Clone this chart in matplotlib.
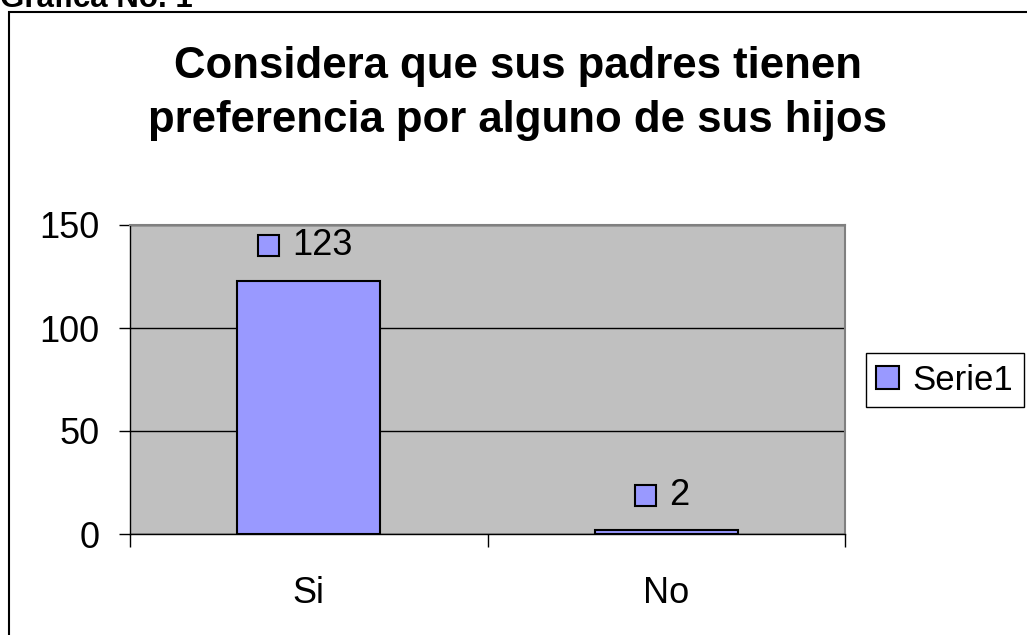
import matplotlib
matplotlib.use('Agg')
import matplotlib.pyplot as plt
from matplotlib.patches import Rectangle, Patch
from matplotlib.offsetbox import AnnotationBbox, DrawingArea, TextArea, HPacker

plt.rcParams['font.family'] = ['Liberation Sans', 'DejaVu Sans']

# datos
categorias = ['Si', 'No']
valores = [123, 2]
serie = 'Serie1'
titulo = ['Considera que sus padres tienen', 'preferencia por alguno de sus hijos']
encabezado = 'Grafica No. 1'
yticks = [0, 50, 100, 150]

W, H = 1027, 635
fig = plt.figure(figsize=(W / 100, H / 100), dpi=100)


def fx(px):
    return px / W


def fy(py):
    return 1 - py / H


# marco exterior (cortado a la derecha y abajo)
fig.add_artist(Rectangle((fx(9), -0.1), 2, fy(12) + 0.1, transform=fig.transFigure,
                         fill=False, ec='black', lw=1.5))
fig.text(fx(0), fy(7), encabezado, fontsize=22.5, fontweight='bold', ha='left', va='baseline')

# titulo
fig.text(fx(518), fy(78), titulo[0], fontsize=31.5, fontweight='bold', ha='center', va='baseline')
fig.text(fx(518), fy(132), titulo[1], fontsize=31.5, fontweight='bold', ha='center', va='baseline')

ax = fig.add_axes([fx(130), fy(534), (845 - 130) / W, (534 - 225) / H])
ax.set_facecolor('#c0c0c0')
x = list(range(len(categorias)))
ax.bar(x, valores, width=0.4, color='#9999ff', edgecolor='black', linewidth=1.5, zorder=3)
ax.set_xlim(-0.5, len(categorias) - 0.5)
ax.set_ylim(0, 150)
ax.set_yticks(yticks)
ax.tick_params(axis='y', direction='out', length=8, width=1, pad=14, labelsize=26)

# ticks en los limites de categoria, etiquetas en el centro
ax.set_xticks([i - 0.5 for i in range(len(categorias) + 1)])
ax.set_xticklabels([])
ax.set_xticks(x, minor=True)
ax.set_xticklabels(categorias, minor=True)
ax.tick_params(axis='x', which='major', direction='out', length=9, width=1)
ax.tick_params(axis='x', which='minor', length=0, pad=30, labelsize=26)

ax.grid(axis='y', color='black', lw=1)
ax.set_axisbelow(True)
for s in ['top', 'right']:
    ax.spines[s].set_color('#808080')
    ax.spines[s].set_linewidth(1.5)
for s in ['left', 'bottom']:
    ax.spines[s].set_color('black')
    ax.spines[s].set_linewidth(1)

# etiquetas de datos con clave de leyenda
for xi, v in zip(x, valores):
    da = DrawingArea(16, 16, 0, 0)
    da.add_artist(Rectangle((0.5, 0.5), 15, 15, fc='#9999ff', ec='black', lw=1.5))
    ta = TextArea(str(v), textprops=dict(fontsize=26))
    box = HPacker(children=[da, ta], sep=9, align='center', pad=0)
    ab = AnnotationBbox(box, (xi, v), xybox=(-3, 25), boxcoords='offset points',
                        frameon=False, box_alignment=(0.5, 0.5))
    ax.add_artist(ab)

leg = fig.legend(handles=[Patch(fc='#9999ff', ec='black', lw=1.5, label=serie)],
                 loc='center left', bbox_to_anchor=(fx(866), fy(380)),
                 frameon=True, fancybox=False, edgecolor='black', framealpha=1,
                 fontsize=25, handlelength=0.65, handleheight=0.65, handletextpad=0.4,
                 borderpad=0.3, borderaxespad=0)
leg.get_frame().set_linewidth(1)

fig.savefig('out.png', dpi=100)
